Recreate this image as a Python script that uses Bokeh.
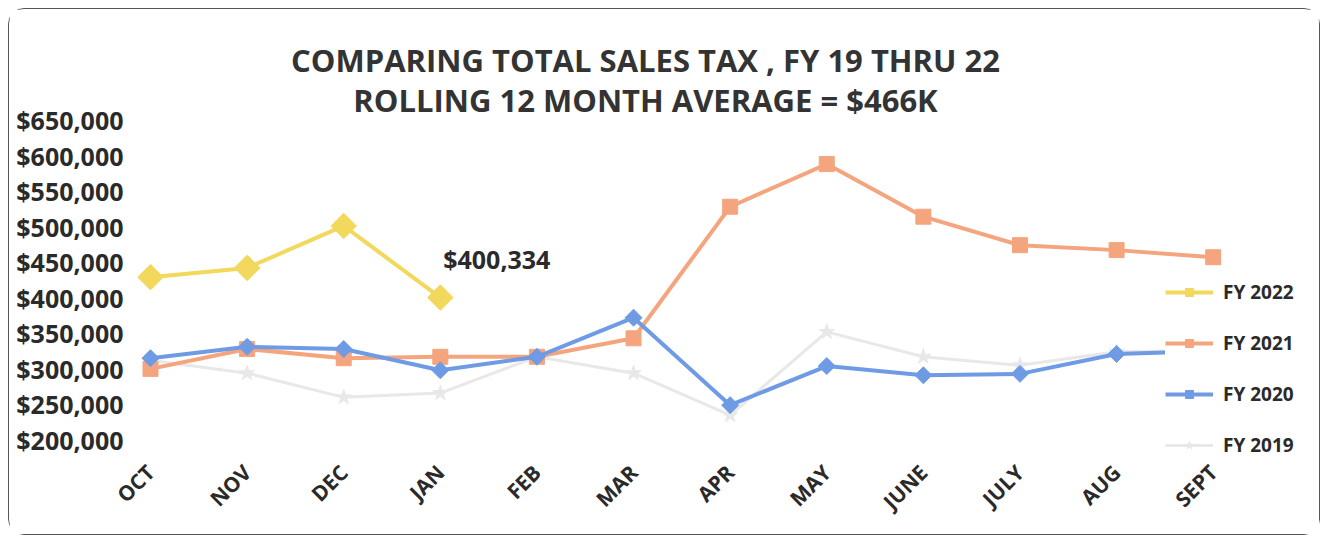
from bokeh.plotting import figure
from bokeh.models import (FixedTicker, Label, Legend, LegendItem, Range1d)
from bokeh.embed import file_html
from bokeh.resources import INLINE
import math

months = ["OCT", "NOV", "DEC", "JAN", "FEB", "MAR", "APR", "MAY", "JUNE", "JULY", "AUG", "SEPT"]
fy2022 = [429000, 442000, 501000, 400334]
fy2021 = [300000, 328000, 315000, 317000, 317000, 343000, 528000, 588000, 514000, 474000, 467000, 457000]
fy2020 = [315000, 331000, 328000, 298000, 317000, 372000, 249000, 304000, 291000, 293000, 321000, 325000]
fy2019 = [312000, 294000, 260000, 266000, 317000, 294000, 235000, 352000, 317000, 305000, 324000, 326000]
y_ticks = [200000, 250000, 300000, 350000, 400000, 450000, 500000, 550000, 600000, 650000]
title1 = "COMPARING TOTAL SALES TAX , FY 19 THRU 22"
title2 = "ROLLING 12 MONTH AVERAGE = $466K"
callout = "$400,334"

FONT = "Open Sans"
W, H = 1312, 527
p = figure(width=W, height=H, output_backend="svg", toolbar_location=None,
           x_range=Range1d(-0.207, 12.09), y_range=Range1d(173984, 791300),
           min_border_left=121, min_border_right=3, min_border_top=10, min_border_bottom=78)
p.styles = {"border": "1.5px solid #555555", "border-radius": "16px",
            "margin-left": "8px", "margin-top": "8px"}
p.outline_line_color = None
p.grid.grid_line_color = None
p.background_fill_color = "white"
p.border_fill_color = "white"

# axes
p.yaxis.ticker = FixedTicker(ticks=y_ticks)
p.yaxis.major_label_overrides = {t: "${:,}".format(t) for t in y_ticks}
p.yaxis.axis_line_color = None
p.yaxis.major_tick_line_color = None
p.yaxis.minor_tick_line_color = None
p.yaxis.major_label_text_font = FONT
p.yaxis.major_label_text_font_style = "bold"
p.yaxis.major_label_text_font_size = "25px"
p.yaxis.major_label_text_color = "#2a2a2a"
p.yaxis.major_label_standoff = 1

xt = list(range(len(months)))
p.xaxis.ticker = FixedTicker(ticks=xt)
p.xaxis.major_label_overrides = {i: m for i, m in enumerate(months)}
p.xaxis.axis_line_color = None
p.xaxis.major_tick_line_color = None
p.xaxis.minor_tick_line_color = None
p.xaxis.major_label_orientation = math.pi / 4
p.xaxis.major_label_text_font = FONT
p.xaxis.major_label_text_font_style = "bold"
p.xaxis.major_label_text_font_size = "21px"
p.xaxis.major_label_text_color = "#2a2a2a"
p.xaxis.major_label_standoff = 4

c22, c21, c20, c19 = "#F2D85C", "#F4A57E", "#6E9BE3", "#E8E8E8"
D = math.pi / 4

x19 = list(range(len(fy2019)))
r19l = p.line(x19, fy2019, line_color=c19, line_width=3)
r19m = p.scatter(x19, fy2019, marker="star", size=16, fill_color=c19, line_color=c19)

x21 = list(range(len(fy2021)))
r21l = p.line(x21, fy2021, line_color=c21, line_width=4)
r21m = p.scatter(x21, fy2021, marker="square", size=15, fill_color=c21, line_color=c21)

x20 = list(range(len(fy2020)))
r20l = p.line(x20, fy2020, line_color=c20, line_width=4)
r20m = p.scatter(x20, fy2020, marker="square", angle=D, size=12, fill_color=c20, line_color=c20)

x22 = list(range(len(fy2022)))
r22l = p.line(x22, fy2022, line_color=c22, line_width=4)
r22m = p.scatter(x22, fy2022, marker="square", angle=D, size=18, fill_color=c22, line_color=c22)

legend = Legend(items=[
    LegendItem(label="FY 2022", renderers=[r22l, r22m]),
    LegendItem(label="FY 2021", renderers=[r21l, r21m]),
    LegendItem(label="FY 2020", renderers=[r20l, r20m]),
    LegendItem(label="FY 2019", renderers=[r19l, r19m]),
], location=(1035, 0), orientation="vertical")
legend.glyph_width = 48
legend.glyph_height = 20
legend.spacing = 25
legend.padding = 2
legend.margin = 0
legend.label_standoff = 10
legend.label_text_font = FONT
legend.label_text_font_style = "bold"
legend.label_text_font_size = "19px"
legend.label_text_color = "#2a2a2a"
legend.border_line_color = None
legend.background_fill_color = "white"
legend.background_fill_alpha = 1.0
p.add_layout(legend)

# callout
p.add_layout(Label(x=3.03, y=455000, text=callout, text_font=FONT, text_font_style="bold",
                   text_font_size="25px", text_color="#2a2a2a", text_align="left",
                   text_baseline="middle"))

# titles
p.add_layout(Label(x=5.124, y=734400, text=title1,
                   text_font=FONT, text_font_style="bold", text_font_size="31px",
                   text_color="#333333", text_align="center", text_baseline="middle"))
p.add_layout(Label(x=5.124, y=678100, text=title2,
                   text_font=FONT, text_font_style="bold", text_font_size="31px",
                   text_color="#333333", text_align="center", text_baseline="middle"))

open("out.html", "w").write(file_html(p, INLINE))
